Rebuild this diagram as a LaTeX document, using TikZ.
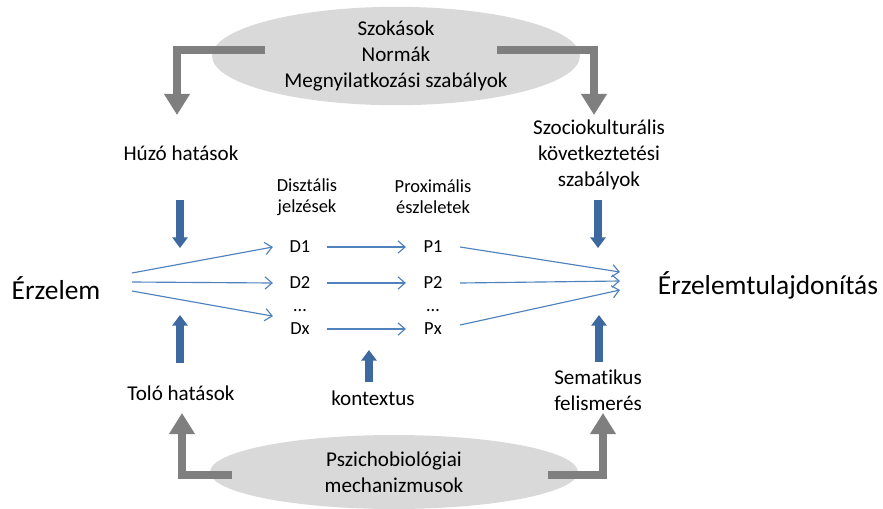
\documentclass[tikz,border=0pt]{standalone}
\usepackage{fontspec}
\setmainfont{Carlito}[Ligatures=NoCommon]
\usetikzlibrary{arrows.meta,shapes.geometric}

\definecolor{cloudgray}{RGB}{217,217,217}
\definecolor{elbowgray}{RGB}{127,127,127}
\definecolor{pushblue}{RGB}{62,104,160}
\definecolor{lineblue}{RGB}{79,129,189}

\tikzset{
  ellipsebox/.style={ellipse, fill=cloudgray, minimum width=7.36cm, minimum height=1.9cm, align=center, inner sep=0pt, font=\fontsize{12}{14.6}\selectfont},
  txt/.style={align=center, inner sep=0pt, font=\fontsize{12}{14.6}\selectfont},
  big/.style={inner sep=0pt, font=\fontsize{15.6}{18}\selectfont},
  sig/.style={inner sep=0pt, minimum width=1.07cm, minimum height=0.5cm, font=\fontsize{10.5}{11.8}\selectfont},
  elbow/.style={draw=elbowgray, line width=4.5pt, -{Triangle[width=14pt,length=12pt]}},
  push/.style={draw=pushblue, line width=4pt, -{Triangle[width=8.5pt,length=6pt]}},
  flow/.style={draw=lineblue, line width=0.65pt, -{Straight Barb[length=4pt,width=7pt]}}
}

\begin{document}
\begin{tikzpicture}[x=0.02cm, y=-0.02cm]
\useasboundingbox (0,0) rectangle (883,508);

% Top and bottom ellipses
\node[ellipsebox] (norms) at (396,56) {Szokások\\Normák\\Megnyilatkozási szabályok};
\node[ellipsebox, minimum height=1.48cm] (bio) at (394,472) {Pszichobiológiai\\mechanizmusok};

% Side texts
\node[txt] (huzo) at (181,153) {Húzó hatások};
\node[txt] (tolo) at (181,393) {Toló hatások};
\node[txt] (szoc) at (599,155) {Szociokulturális\\következtetési\\szabályok};
\node[txt] (sema) at (598,390) {Sematikus\\felismerés};
\node[txt] (kont) at (373,398) {kontextus};
\node[big] (erz) at (56,288) {Érzelem};
\node[big] (tul) at (768,285) {Érzelemtulajdonítás};

% Gray elbow arrows
\coordinate (nl) at (265,50);
\coordinate (nr) at (497,50);
\coordinate (bl) at (232,475);
\coordinate (br) at (548,475);
\coordinate (nltip) at (177,115);
\coordinate (nrtip) at (594,115);
\coordinate (bltip) at (182,413);
\coordinate (brtip) at (603,413);
\draw[elbow] (nl) -| (nltip);
\draw[elbow] (nr) -| (nrtip);
\draw[elbow] (bl) -| (bltip);
\draw[elbow] (br) -| (brtip);

% Blue block arrows
\coordinate (hz) at (180,200);
\coordinate (hztip) at (180,248);
\coordinate (tl) at (180,363);
\coordinate (tltip) at (180,315);
\coordinate (sz) at (598,200);
\coordinate (sztip) at (598,248);
\coordinate (sm) at (599,362);
\coordinate (smtip) at (599,315);
\coordinate (kx) at (369,382);
\coordinate (kxtip) at (369,350);
\draw[push] (hz) -- (hztip);
\draw[push] (tl) -- (tltip);
\draw[push] (sz) -- (sztip);
\draw[push] (sm) -- (smtip);
\draw[push] (kx) -- (kxtip);

% Distal cues and proximal percepts
\node[sig, align=center] (dhead) at (307,197) {Disztális\\jelzések};
\node[sig, align=center] (phead) at (433,197) {Proximális\\észleletek};
\node[sig] (D1) at (300,247) {D1};
\node[sig] (D2) at (300,283) {D2};
\node[sig] (Dd) at (300,311) {…};
\node[sig] (Dx) at (300,329) {Dx};
\node[sig] (P1) at (433,247) {P1};
\node[sig] (P2) at (433,283) {P2};
\node[sig] (Pd) at (433,311) {…};
\node[sig] (Px) at (433,329) {Px};

% Thin blue arrows
\coordinate (src) at (132,282);
\coordinate (tgt) at (620,281);
\draw[flow] ([yshift=0.18cm]src) -- (D1.west);
\draw[flow] (src) -- (D2.west);
\draw[flow] ([yshift=-0.18cm]src) -- (Dx.north west);
\draw[flow] (D1) -- (P1);
\draw[flow] (D2) -- (P2);
\draw[flow] (Dx) -- (Px);
\draw[flow] (P1.east) -- ([yshift=0.18cm]tgt);
\draw[flow] (P2.east) -- (tgt);
\draw[flow] ([yshift=0.08cm]Px.east) -- ([yshift=-0.18cm]tgt);

\end{tikzpicture}
\end{document}
